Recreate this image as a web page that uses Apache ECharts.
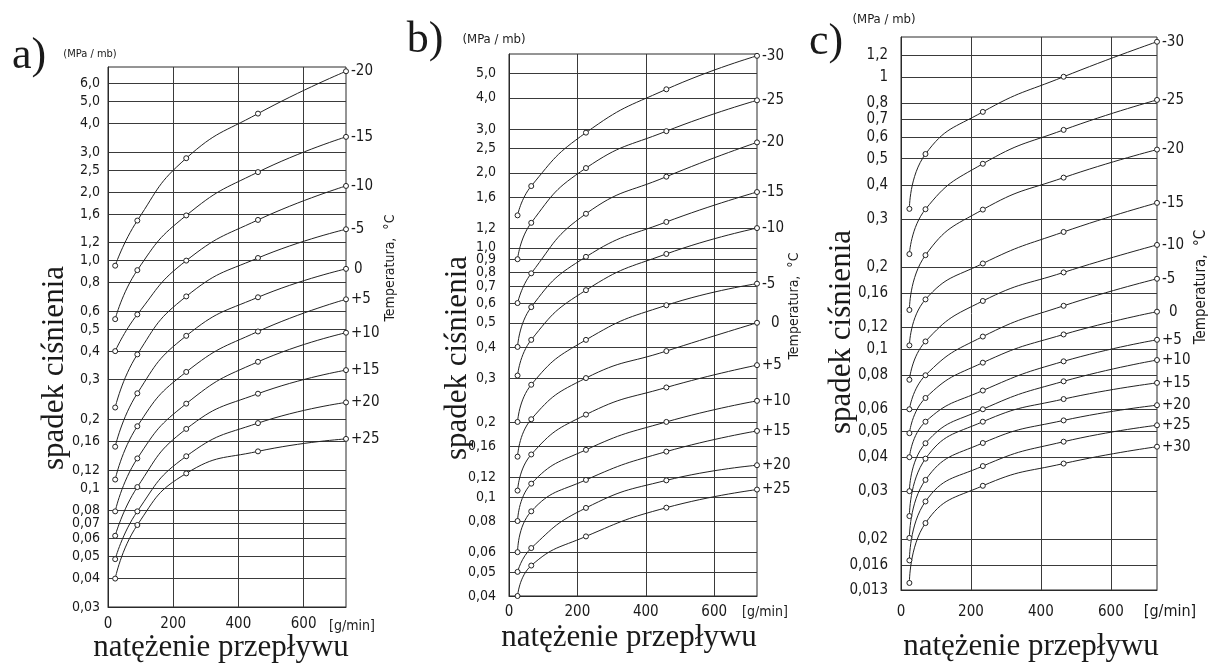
<!DOCTYPE html>
<html><head><meta charset="utf-8">
<script src="https://cdn.jsdelivr.net/npm/echarts@6/dist/echarts.min.js"></script>
<style>html,body{margin:0;padding:0;background:#fff}#chart{width:1208px;height:666px}</style>
</head><body><div id="chart"></div>
<script>
// ---------- Panel a ----------
const aFlow = [22, 90, 240, 460, 730];
const aNames = ['-20', '-15', '-10', '-5', '0', '+5', '+10', '+15', '+20', '+25'];
const aM20 = [0.95, 1.5, 2.82, 4.43, 6.8];
const aM15 = [0.553, 0.908, 1.58, 2.45, 3.5];
const aM10 = [0.4, 0.58, 1.0, 1.51, 2.13];
const aM5  = [0.226, 0.387, 0.696, 1.027, 1.374];
const aZ0  = [0.152, 0.261, 0.467, 0.69, 0.92];
const aP5  = [0.109, 0.187, 0.324, 0.488, 0.676];
const aP10 = [0.079, 0.135, 0.235, 0.359, 0.482];
const aP15 = [0.0617, 0.101, 0.182, 0.26, 0.33];
const aP20 = [0.0487, 0.079, 0.138, 0.193, 0.238];
const aP25 = [0.04, 0.0688, 0.116, 0.145, 0.1645];
const aTicks = [6.0, 5.0, 4.0, 3.0, 2.5, 2.0, 1.6, 1.2, 1.0, 0.8, 0.6, 0.5, 0.4, 0.3, 0.2, 0.16, 0.12, 0.1, 0.08, 0.07, 0.06, 0.05, 0.04, 0.03];
const aTickLabels = ['6,0', '5,0', '4,0', '3,0', '2,5', '2,0', '1,6', '1,2', '1,0', '0,8', '0,6', '0,5', '0,4', '0,3', '0,2', '0,16', '0,12', '0,1', '0,08', '0,07', '0,06', '0,05', '0,04', '0,03'];

// ---------- Panel b ----------
const bFlow = [25, 65, 225, 460, 725];
const bNames = ['-30', '-25', '-20', '-15', '-10', '-5', '0', '+5', '+10', '+15', '+20', '+25'];
const bM30 = [1.35, 1.77, 2.9, 4.33, 5.9];
const bM25 = [0.9, 1.26, 2.09, 2.94, 3.91];
const bM20 = [0.6, 0.79, 1.37, 1.93, 2.65];
const bM15 = [0.4, 0.578, 0.92, 1.27, 1.675];
const bM10 = [0.307, 0.427, 0.676, 0.945, 1.2];
const bM5  = [0.2, 0.282, 0.427, 0.588, 0.718];
const bZ0  = [0.145, 0.205, 0.3, 0.385, 0.5];
const bP5  = [0.106, 0.148, 0.214, 0.275, 0.338];
const bP10 = [0.08, 0.113, 0.1545, 0.2, 0.243];
const bP15 = [0.06, 0.0875, 0.117, 0.152, 0.184];
const bP20 = [0.05, 0.0623, 0.0903, 0.1165, 0.134];
const bP25 = [0.04, 0.053, 0.0694, 0.0905, 0.107];
const bTicks = [5.0, 4.0, 3.0, 2.5, 2.0, 1.6, 1.2, 1.0, 0.9, 0.8, 0.7, 0.6, 0.5, 0.4, 0.3, 0.2, 0.16, 0.12, 0.1, 0.08, 0.06, 0.05, 0.04];
const bTickLabels = ['5,0', '4,0', '3,0', '2,5', '2,0', '1,6', '1,2', '1,0', '0,9', '0,8', '0,7', '0,6', '0,5', '0,4', '0,3', '0,2', '0,16', '0,12', '0,1', '0,08', '0,06', '0,05', '0,04'];

// ---------- Panel c ----------
const cFlow = [24, 70, 234, 465, 732];
const cNames = ['-30', '-25', '-20', '-15', '-10', '-5', '0', '+5', '+10', '+15', '+20', '+25', '+30'];
const cM30 = [0.327, 0.52, 0.743, 1.0, 1.345];
const cM25 = [0.223, 0.326, 0.479, 0.638, 0.822];
const cM20 = [0.139, 0.221, 0.325, 0.426, 0.54];
const cM15 = [0.103, 0.152, 0.206, 0.269, 0.344];
const cM10 = [0.077, 0.1065, 0.15, 0.191, 0.241];
const cM5  = [0.06, 0.08, 0.111, 0.144, 0.181];
const cZ0  = [0.049, 0.066, 0.089, 0.113, 0.137];
const cP5  = [0.04, 0.054, 0.0703, 0.09, 0.108];
const cP10 = [0.03, 0.045, 0.06, 0.076, 0.091];
const cP15 = [0.0243, 0.0395, 0.054, 0.0654, 0.075];
const cP20 = [0.0202, 0.033, 0.0451, 0.0546, 0.0621];
const cP25 = [0.0167, 0.0275, 0.0371, 0.0456, 0.0524];
const cP30 = [0.0138, 0.0229, 0.0314, 0.0379, 0.0437];
const cTicks = [1.2, 1, 0.8, 0.7, 0.6, 0.5, 0.4, 0.3, 0.2, 0.16, 0.12, 0.1, 0.08, 0.06, 0.05, 0.04, 0.03, 0.02, 0.016, 0.013];
const cTickLabels = ['1,2', '1', '0,8', '0,7', '0,6', '0,5', '0,4', '0,3', '0,2', '0,16', '0,12', '0,1', '0,08', '0,06', '0,05', '0,04', '0,03', '0,02', '0,016', '0,013'];

const xTicks = [0, 200, 400, 600];

const panels = [
  {flow: aFlow, names: aNames, data: [aM20, aM15, aM10, aM5, aZ0, aP5, aP10, aP15, aP20, aP25],
   ticks: aTicks, labels: aTickLabels, yMin: 0.03, yMax: 7.1, xMax: 730,
   grid: {left: 108, top: 67, width: 238, height: 540}, yFont: 14, yMargin: 8, xFont: 15, xMargin: 10, endFont: 15, zeroGap: 8},
  {flow: bFlow, names: bNames, data: [bM30, bM25, bM20, bM15, bM10, bM5, bZ0, bP5, bP10, bP15, bP20, bP25],
   ticks: bTicks, labels: bTickLabels, yMin: 0.04, yMax: 6.0, xMax: 725,
   grid: {left: 509, top: 54, width: 248, height: 542}, yFont: 14, yMargin: 13, xFont: 15, xMargin: 9, endFont: 15, zeroGap: 14},
  {flow: cFlow, names: cNames, data: [cM30, cM25, cM20, cM15, cM10, cM5, cZ0, cP5, cP10, cP15, cP20, cP25, cP30],
   ticks: cTicks, labels: cTickLabels, yMin: 0.013, yMax: 1.4, xMax: 732,
   grid: {left: 901, top: 37, width: 256, height: 553}, yFont: 15, yMargin: 13, xFont: 15, xMargin: 15, endFont: 15, zeroGap: 12}
];

const NUMFONT = '"DejaVu Sans Condensed", "DejaVu Sans", sans-serif';
const SERIF = '"Liberation Serif", "DejaVu Serif", serif';
const INK = '#1a1a1a';

function labelFor(ticks, labels) {
  return function (v) {
    let best = 0, bd = Infinity;
    for (let i = 0; i < ticks.length; i++) {
      const d = Math.abs(Math.log(v) - Math.log(ticks[i]));
      if (d < bd) { bd = d; best = i; }
    }
    return labels[best];
  };
}

const grids = [], xAxes = [], yAxes = [], series = [];
panels.forEach((p, i) => {
  grids.push(Object.assign({show: true, borderColor: '#2a2a2a', borderWidth: 1, backgroundColor: 'transparent'}, p.grid));
  xAxes.push({
    type: 'value', gridIndex: i, min: 0, max: p.xMax,
    axisLine: {show: true, lineStyle: {color: '#2a2a2a', width: 1}},
    axisTick: {show: false, customValues: xTicks},
    axisLabel: {customValues: xTicks, fontFamily: NUMFONT, fontSize: p.xFont, color: INK, margin: p.xMargin},
    splitLine: {show: true, lineStyle: {color: '#3a3a3a', width: 1}}
  });
  yAxes.push({
    type: 'log', logBase: 10, gridIndex: i, min: p.yMin, max: p.yMax,
    axisLine: {show: true, lineStyle: {color: '#2a2a2a', width: 1}},
    axisTick: {show: false, customValues: p.ticks},
    axisLabel: {customValues: p.ticks, formatter: labelFor(p.ticks, p.labels), fontFamily: NUMFONT, fontSize: p.yFont, color: INK, margin: p.yMargin},
    splitLine: {show: true, lineStyle: {color: '#3a3a3a', width: 1}},
    minorTick: {show: false}, minorSplitLine: {show: false}
  });
  p.data.forEach((arr, k) => {
    const nm = p.names[k];
    series.push({
      type: 'line', name: nm, xAxisIndex: i, yAxisIndex: i,
      data: p.flow.map((x, j) => [x, arr[j]]),
      smooth: 0.5,
      symbol: 'circle', symbolSize: 5, showSymbol: true,
      itemStyle: {color: '#fff', borderColor: '#222', borderWidth: 1},
      lineStyle: {color: '#222', width: 1},
      endLabel: {show: true, formatter: () => nm, fontFamily: NUMFONT, fontSize: p.endFont, color: INK,
                 distance: nm === '0' ? p.zeroGap : 5},
      emphasis: {disabled: true},
      animation: false, z: 3
    });
  });
});

function txt(text, x, y, font, opts) {
  return Object.assign({
    type: 'text', x: x, y: y,
    style: {text: text, font: font, fill: INK, align: 'center', verticalAlign: 'middle'}
  }, opts || {});
}

const graphics = [
  txt('a)', 29, 56, '44px ' + SERIF),
  txt('b)', 425, 40, '44px ' + SERIF),
  txt('c)', 826, 42, '44px ' + SERIF),
  txt('(MPa / mb)', 90, 54, '11px ' + NUMFONT),
  txt('(MPa / mb)', 494, 40, '13px ' + NUMFONT),
  txt('(MPa / mb)', 884, 20, '13px ' + NUMFONT),
  txt('spadek ciśnienia', 55, 368, '31px ' + SERIF, {rotation: Math.PI / 2}),
  txt('spadek ciśnienia', 458, 358, '31px ' + SERIF, {rotation: Math.PI / 2}),
  txt('spadek ciśnienia', 842, 332, '31px ' + SERIF, {rotation: Math.PI / 2}),
  txt('natężenie przepływu', 221, 648, '31px ' + SERIF),
  txt('natężenie przepływu', 629, 638, '31px ' + SERIF),
  txt('natężenie przepływu', 1031, 647, '31px ' + SERIF),
  txt('Temperatura,  °C', 390, 268, '14px ' + NUMFONT, {rotation: Math.PI / 2}),
  txt('Temperatura,  °C', 794, 306, '14px ' + NUMFONT, {rotation: Math.PI / 2}),
  txt('Temperatura,  °C', 1201, 287, '15px ' + NUMFONT, {rotation: Math.PI / 2}),
  txt('[g/min]', 352, 626, '14px ' + NUMFONT),
  txt('[g/min]', 765, 612, '14px ' + NUMFONT),
  txt('[g/min]', 1170, 612, '16px ' + NUMFONT)
];

const chart = echarts.init(document.getElementById('chart'), null, {renderer: 'canvas'});
chart.setOption({
  backgroundColor: '#fff',
  animation: false,
  grid: grids, xAxis: xAxes, yAxis: yAxes, series: series,
  graphic: graphics
});
</script></body></html>
